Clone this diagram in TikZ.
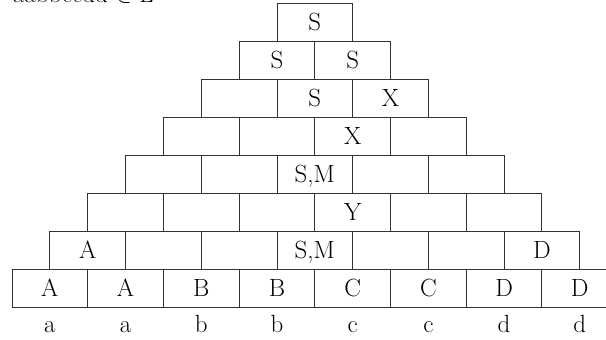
\documentclass[tikz,border=0pt]{standalone}
\newcommand\cykfont{\fontsize{25}{30}\selectfont}
\newcommand\cykcell[3]{\node[cell] (c-#1-#2) at ({12+#1*37.85+(#2-1)*75.7},{31.7+#1*38}) {#3};}
\newcommand\cyklab[2]{\node[lab] (l-#1) at ({12+37.85+(#1-1)*75.7},7) {#2};}
\begin{document}
\begin{tikzpicture}[x=1bp,y=1bp,
  cell/.style={draw=black!80, line width=0.9bp, minimum width=75.7bp, minimum height=38bp,
    inner sep=0pt, outer sep=0pt, anchor=south west, text height=17bp, text depth=0bp, font=\cykfont},
  lab/.style={anchor=base, inner sep=0pt, font=\cykfont}]
\useasboundingbox (0,0) rectangle (606,339);
\clip (0,0) rectangle (606,339);
\node[anchor=base west, inner sep=0pt, font=\cykfont] (title) at (13,336.5) {aabbccdd $\in$ L};
% row 0
\cykcell{0}{1}{A}\cykcell{0}{2}{A}\cykcell{0}{3}{B}\cykcell{0}{4}{B}
\cykcell{0}{5}{C}\cykcell{0}{6}{C}\cykcell{0}{7}{D}\cykcell{0}{8}{D}
% row 1
\cykcell{1}{1}{A}\cykcell{1}{2}{}\cykcell{1}{3}{}\cykcell{1}{4}{S,M}
\cykcell{1}{5}{}\cykcell{1}{6}{}\cykcell{1}{7}{D}
% row 2
\cykcell{2}{1}{}\cykcell{2}{2}{}\cykcell{2}{3}{}\cykcell{2}{4}{Y}
\cykcell{2}{5}{}\cykcell{2}{6}{}
% row 3
\cykcell{3}{1}{}\cykcell{3}{2}{}\cykcell{3}{3}{S,M}\cykcell{3}{4}{}\cykcell{3}{5}{}
% row 4
\cykcell{4}{1}{}\cykcell{4}{2}{}\cykcell{4}{3}{X}\cykcell{4}{4}{}
% row 5
\cykcell{5}{1}{}\cykcell{5}{2}{S}\cykcell{5}{3}{X}
% row 6
\cykcell{6}{1}{S}\cykcell{6}{2}{S}
% row 7
\cykcell{7}{1}{S}
% labels
\cyklab{1}{a}\cyklab{2}{a}\cyklab{3}{b}\cyklab{4}{b}
\cyklab{5}{c}\cyklab{6}{c}\cyklab{7}{d}\cyklab{8}{d}
\end{tikzpicture}
\end{document}
